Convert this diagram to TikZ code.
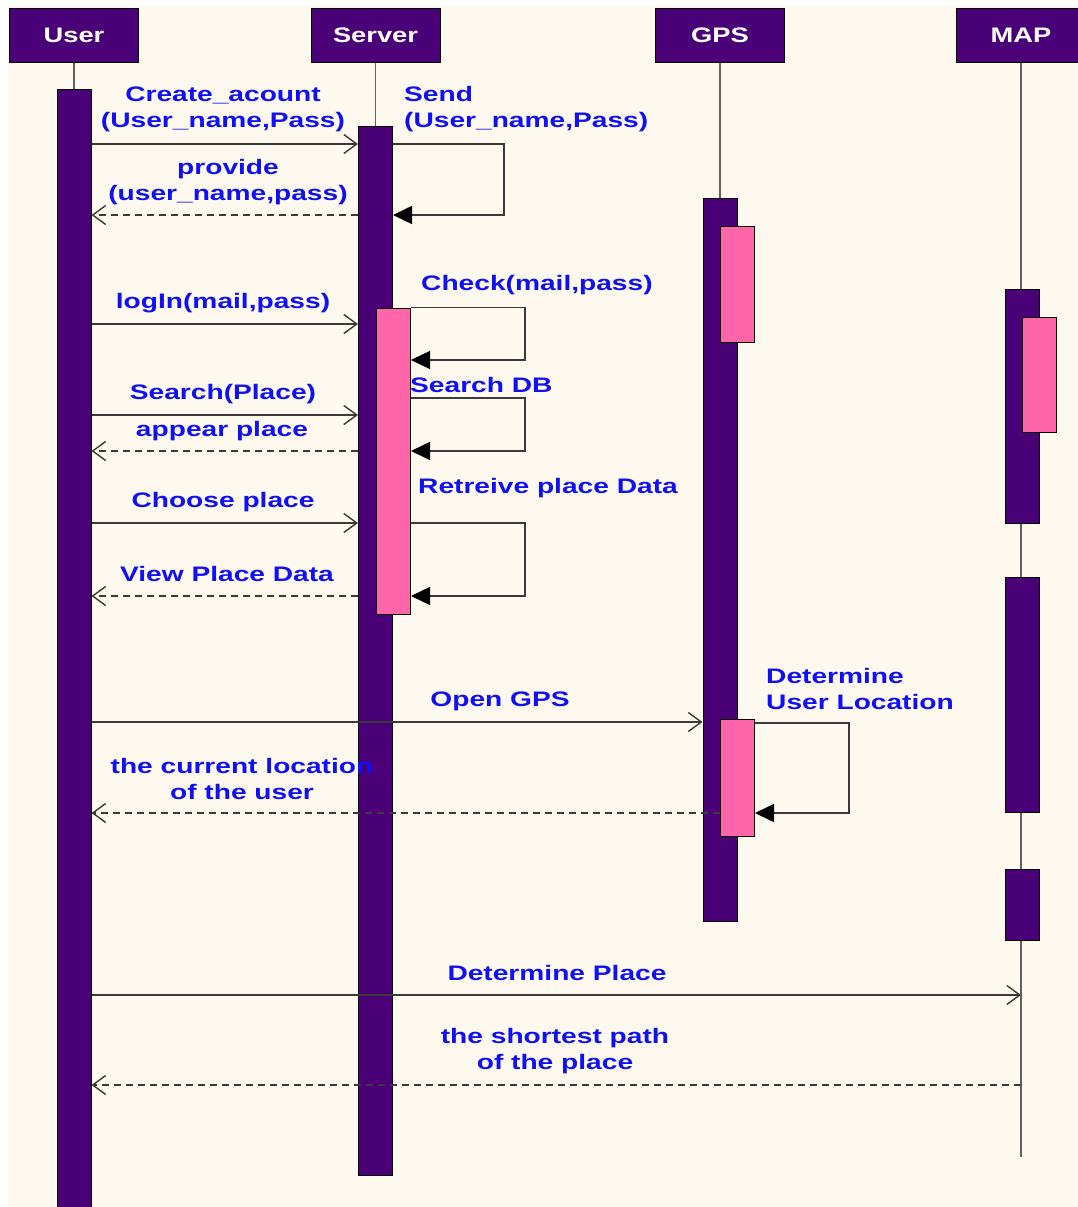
\documentclass[tikz,border=0pt]{standalone}
\usepackage{fontspec}
\setmainfont{Liberation Sans}
\usepackage{graphicx}
\usetikzlibrary{arrows.meta}
\definecolor{bgc}{HTML}{FDF9EE}
\definecolor{purp}{HTML}{4A0076}
\definecolor{pinkc}{HTML}{FF66AA}
\definecolor{txtc}{HTML}{1010F5}
\definecolor{linec}{HTML}{3A3A3A}
\newcommand{\sx}[1]{\scalebox{1.34}[1]{#1}}
\newcommand{\hx}[1]{\scalebox{1.3}[1]{#1}}
\tikzset{
  head/.style={draw=black, line width=1pt, fill=purp, text=white, font=\fontsize{21}{24}\selectfont\bfseries,
    minimum width=129pt, minimum height=54pt, inner sep=0pt, anchor=north},
  actbar/.style={draw=black, line width=1pt, fill=purp, minimum width=34pt, inner sep=0pt, anchor=north},
  actpink/.style={draw=black, line width=1pt, fill=pinkc, minimum width=34pt, inner sep=0pt, anchor=north},
  life/.style={draw=linec!80, line width=1.5pt},
  msg/.style={draw=linec, line width=1.5pt, -{Straight Barb[length=13pt,width=19pt,line width=1.4pt]}},
  ret/.style={draw=linec, line width=1.5pt, dash pattern=on 7pt off 5pt, -{Straight Barb[length=13pt,width=19pt,line width=1.4pt]}},
  self/.style={draw=linec, line width=1.5pt, -{Triangle[length=19pt,width=18pt,fill=black,color=black]}},
  lbl/.style={text=txtc, font=\fontsize{21}{26}\selectfont\bfseries, inner sep=0pt, align=center},
  lbll/.style={text=txtc, font=\fontsize{21}{26}\selectfont\bfseries, inner sep=0pt, align=left, anchor=west},
}
\begin{document}
\begin{tikzpicture}[x=1pt, y=-1pt]
\useasboundingbox (0,0) rectangle (1078,1207);
\clip (0,0) rectangle (1078,1207);
\fill[white] (0,0) rectangle (1078,1207);
\fill[bgc] (8,5) rectangle (1078,1207);

% headers
\node[head] (uhead) at (74,8) {\hx{User}};
\node[head] (shead) at (375.5,8) {\hx{Server}};
\node[head] (ghead) at (720,8) {\hx{GPS}};
\node[head] (mhead) at (1021,8) {\hx{MAP}};

% lifeline ends
\coordinate (uend) at (74,100);
\coordinate (send) at (375.5,1170);
\coordinate (gend) at (720,920);
\coordinate (mend) at (1021,1157);
\draw[life] (uhead.south) -- (uend);
\draw[life] (shead.south) -- (send);
\draw[life] (ghead.south) -- (gend);
\draw[life] (mhead.south) -- (mend);

% activation bars
\node[actbar, minimum height=1130pt] (ubar) at (74,89) {};
\node[actbar, minimum height=1049pt] (sbar) at (375.5,126) {};
\node[actpink, minimum height=306pt] (spink) at (393.5,307.5) {};
\node[actbar, minimum height=723pt] (gbar) at (720,198) {};
\node[actpink, minimum height=116pt] (gpink1) at (737.5,226) {};
\node[actpink, minimum height=117pt] (gpink2) at (737.5,719) {};
\node[actbar, minimum height=234pt] (mbar1) at (1022,289) {};
\node[actpink, minimum height=115pt] (mpink) at (1039,317) {};
\node[actbar, minimum height=235pt] (mbar2) at (1022,577) {};
\node[actbar, minimum height=71pt] (mbar3) at (1022,869) {};

% messages
\draw[msg] (ubar.east |- 0,144) -- (sbar.west |- 0,144);
\draw[self] (sbar.east |- 0,144) -- (504,144) -- (504,215) -- (sbar.east |- 0,215);
\draw[ret] (sbar.west |- 0,215) -- (ubar.east |- 0,215);

\draw[msg] (ubar.east |- 0,324) -- (sbar.west |- 0,324);
\draw[self] (spink.east |- 0,307.5) -- (525,307.5) -- (525,360) -- (spink.east |- 0,360);

\draw[msg] (ubar.east |- 0,415) -- (sbar.west |- 0,415);
\draw[self] (spink.east |- 0,398) -- (525,398) -- (525,451) -- (spink.east |- 0,451);
\draw[ret] (sbar.west |- 0,451) -- (ubar.east |- 0,451);

\draw[msg] (ubar.east |- 0,523) -- (sbar.west |- 0,523);
\draw[self] (spink.east |- 0,523) -- (525,523) -- (525,596) -- (spink.east |- 0,596);
\draw[ret] (sbar.west |- 0,596) -- (ubar.east |- 0,596);

\draw[msg] (ubar.east |- 0,722) -- (gbar.west |- 0,722);
\draw[self] (gpink2.east |- 0,723) -- (849,723) -- (849,813) -- (gpink2.east |- 0,813);
\draw[ret] (gpink2.west |- 0,813) -- (ubar.east |- 0,813);

\draw[msg] (ubar.east |- 0,995) -- (mhead.south |- 0,995);
\draw[ret] (mhead.south |- 0,1085) -- (ubar.east |- 0,1085);

% labels
\node[lbl] (l1) at (223,109) {\sx{Create\_acount}\\\sx{(User\_name,Pass)}};
\node[lbll] (l2) at (404,109) {\sx{Send}\\\sx{(User\_name,Pass)}};
\node[lbl] (l3) at (228,182) {\sx{provide}\\\sx{(user\_name,pass)}};
\node[lbl] (l4) at (223,303) {\sx{logIn(mail,pass)}};
\node[lbll] (l5) at (421,285) {\sx{Check(mail,pass)}};
\node[lbl] (l6) at (223,394) {\sx{Search(Place)}};
\node[lbll] (l7) at (410,385) {\sx{Search DB}};
\node[lbl] (l8) at (222,431) {\sx{appear place}};
\node[lbl] (l9) at (223,502) {\sx{Choose place}};
\node[lbll] (l10) at (418,488) {\sx{Retreive place Data}};
\node[lbl] (l11) at (227,574) {\sx{View Place Data}};
\node[lbl] (l12) at (500,701) {\sx{Open GPS}};
\node[lbll] (l13) at (766,689) {\sx{Determine}\\\sx{User Location}};
\node[lbl] (l14) at (242,779) {\sx{the current location}\\\sx{of the user}};
\node[lbl] (l15) at (557,973) {\sx{Determine Place}};
\node[lbl] (l16) at (555,1051) {\sx{the shortest path}\\\sx{of the place}};
\end{tikzpicture}
\end{document}
